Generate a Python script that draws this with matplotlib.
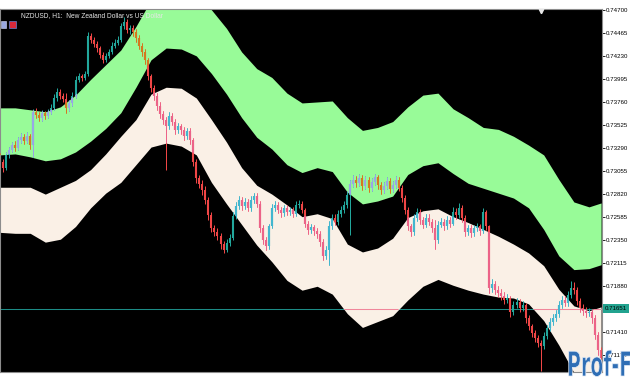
import numpy as np
import matplotlib
matplotlib.use('Agg')
import matplotlib.pyplot as plt
from matplotlib.collections import LineCollection
from matplotlib.transforms import TransformedPath, Affine2D, blended_transform_factory
from matplotlib.textpath import TextPath
from matplotlib.font_manager import FontProperties
from matplotlib.patches import PathPatch, Rectangle

# NZDUSD H1 bars (open = previous close)
first_open = 0.7321
closes = [
    0.7315, 0.7309, 0.7322, 0.7327, 0.7332, 0.7329, 0.7337, 0.7340, 0.7336, 0.7341,
    0.7332, 0.7366, 0.7363, 0.7360, 0.7365, 0.7362, 0.7366, 0.7370, 0.7380, 0.7386,
    0.7382, 0.7379, 0.7370, 0.7375, 0.7382, 0.7398, 0.7402, 0.7400, 0.7405, 0.7443,
    0.7439, 0.7435, 0.7431, 0.7424, 0.7419, 0.7423, 0.7427, 0.7433, 0.7436, 0.7439,
    0.7453, 0.7458, 0.7449, 0.7451, 0.7447, 0.7441, 0.7433, 0.7427, 0.7419, 0.7402,
    0.7390, 0.7382, 0.7372, 0.7364, 0.7358, 0.7351, 0.7362, 0.7356, 0.7347, 0.7351,
    0.7347, 0.7341, 0.7346, 0.7337, 0.7315, 0.7298, 0.7292, 0.7286, 0.7276, 0.7261,
    0.7247, 0.7243, 0.7239, 0.7231, 0.7225, 0.7232, 0.7237, 0.7260, 0.7270, 0.7276,
    0.7270, 0.7274, 0.7268, 0.7276, 0.7280, 0.7272, 0.7247, 0.7235, 0.7229, 0.7249,
    0.7268, 0.7271, 0.7266, 0.7263, 0.7268, 0.7264, 0.7266, 0.7262, 0.7271, 0.7272,
    0.7266, 0.7252, 0.7245, 0.7248, 0.7244, 0.7241, 0.7233, 0.7219, 0.7225, 0.7249,
    0.7258, 0.7254, 0.7262, 0.7266, 0.7271, 0.7281, 0.7292, 0.7296, 0.7293, 0.7298,
    0.7290, 0.7296, 0.7288, 0.7294, 0.7299, 0.7291, 0.7286, 0.7290, 0.7295, 0.7287,
    0.7291, 0.7296, 0.7288, 0.7278, 0.7266, 0.7249, 0.7243, 0.7258, 0.7264, 0.7256,
    0.7251, 0.7258, 0.7254, 0.7247, 0.7235, 0.7251, 0.7254, 0.7249, 0.7256, 0.7252,
    0.7264, 0.7261, 0.7268, 0.7258, 0.7243, 0.7247, 0.7242, 0.7247, 0.7249, 0.7244,
    0.7264, 0.7249, 0.7186, 0.7190, 0.7184, 0.7181, 0.7178, 0.7174, 0.7176, 0.7162,
    0.7169, 0.7172, 0.7166, 0.7169, 0.7156, 0.7147, 0.7140, 0.7135, 0.7130, 0.7127,
    0.7137, 0.7145, 0.7152, 0.7156, 0.7160, 0.7169, 0.7174, 0.7171, 0.7179, 0.7186,
    0.7184, 0.7173, 0.7166, 0.7163, 0.7161, 0.7162, 0.7156, 0.7138, 0.7123, 0.7115,
]
highs = [
    0.7324, 0.7318, 0.7325, 0.7330, 0.7335, 0.7336, 0.7340, 0.7344, 0.7343, 0.7345,
    0.7343, 0.7369, 0.7370, 0.7366, 0.7368, 0.7367, 0.7369, 0.7374, 0.7384, 0.7390,
    0.7389, 0.7385, 0.7385, 0.7378, 0.7386, 0.7402, 0.7406, 0.7405, 0.7408, 0.7447,
    0.7446, 0.7442, 0.7438, 0.7433, 0.7427, 0.7426, 0.7430, 0.7437, 0.7440, 0.7443,
    0.7457, 0.7463, 0.7461, 0.7455, 0.7454, 0.7450, 0.7444, 0.7436, 0.7430, 0.7421,
    0.7405, 0.7393, 0.7385, 0.7376, 0.7367, 0.7361, 0.7366, 0.7365, 0.7359, 0.7355,
    0.7354, 0.7350, 0.7349, 0.7349, 0.7339, 0.7318, 0.7302, 0.7296, 0.7290, 0.7279,
    0.7264, 0.7251, 0.7247, 0.7242, 0.7234, 0.7236, 0.7241, 0.7264, 0.7274, 0.7280,
    0.7279, 0.7278, 0.7277, 0.7280, 0.7283, 0.7283, 0.7275, 0.7250, 0.7238, 0.7252,
    0.7272, 0.7275, 0.7274, 0.7269, 0.7271, 0.7271, 0.7269, 0.7269, 0.7275, 0.7276,
    0.7275, 0.7268, 0.7255, 0.7252, 0.7251, 0.7247, 0.7244, 0.7236, 0.7229, 0.7255,
    0.7262, 0.7262, 0.7266, 0.7270, 0.7275, 0.7285, 0.7296, 0.7301, 0.7300, 0.7303,
    0.7301, 0.7300, 0.7299, 0.7298, 0.7303, 0.7302, 0.7294, 0.7294, 0.7299, 0.7298,
    0.7295, 0.7300, 0.7299, 0.7291, 0.7281, 0.7269, 0.7252, 0.7262, 0.7268, 0.7267,
    0.7259, 0.7262, 0.7262, 0.7257, 0.7256, 0.7255, 0.7258, 0.7257, 0.7260, 0.7259,
    0.7269, 0.7268, 0.7273, 0.7271, 0.7261, 0.7251, 0.7250, 0.7251, 0.7253, 0.7252,
    0.7268, 0.7266, 0.7251, 0.7195, 0.7193, 0.7188, 0.7185, 0.7182, 0.7180, 0.7178,
    0.7173, 0.7176, 0.7175, 0.7173, 0.7171, 0.7159, 0.7150, 0.7143, 0.7138, 0.7133,
    0.7141, 0.7149, 0.7156, 0.7160, 0.7164, 0.7173, 0.7178, 0.7178, 0.7183, 0.7193,
    0.7192, 0.7187, 0.7176, 0.7170, 0.7167, 0.7166, 0.7165, 0.7159, 0.7141, 0.7126,
]
lows = [
    0.7310, 0.7305, 0.7307, 0.7319, 0.7325, 0.7326, 0.7327, 0.7334, 0.7333, 0.7334,
    0.7328, 0.7320, 0.7360, 0.7357, 0.7357, 0.7359, 0.7360, 0.7364, 0.7368, 0.7377,
    0.7379, 0.7376, 0.7365, 0.7367, 0.7372, 0.7380, 0.7396, 0.7397, 0.7398, 0.7402,
    0.7436, 0.7432, 0.7427, 0.7421, 0.7416, 0.7417, 0.7421, 0.7425, 0.7431, 0.7434,
    0.7437, 0.7450, 0.7446, 0.7445, 0.7443, 0.7437, 0.7430, 0.7423, 0.7415, 0.7398,
    0.7386, 0.7378, 0.7368, 0.7360, 0.7354, 0.7307, 0.7348, 0.7352, 0.7343, 0.7344,
    0.7343, 0.7337, 0.7338, 0.7333, 0.7311, 0.7293, 0.7288, 0.7281, 0.7272, 0.7256,
    0.7243, 0.7239, 0.7235, 0.7226, 0.7222, 0.7223, 0.7229, 0.7235, 0.7257, 0.7267,
    0.7266, 0.7267, 0.7265, 0.7265, 0.7273, 0.7269, 0.7243, 0.7231, 0.7225, 0.7226,
    0.7247, 0.7265, 0.7263, 0.7259, 0.7260, 0.7261, 0.7261, 0.7259, 0.7260, 0.7268,
    0.7263, 0.7248, 0.7241, 0.7242, 0.7240, 0.7237, 0.7229, 0.7215, 0.7216, 0.7210,
    0.7246, 0.7250, 0.7251, 0.7259, 0.7263, 0.7268, 0.7240, 0.7289, 0.7289, 0.7290,
    0.7286, 0.7287, 0.7284, 0.7285, 0.7291, 0.7287, 0.7282, 0.7283, 0.7287, 0.7283,
    0.7284, 0.7288, 0.7285, 0.7274, 0.7262, 0.7245, 0.7239, 0.7240, 0.7255, 0.7252,
    0.7247, 0.7248, 0.7250, 0.7243, 0.7226, 0.7232, 0.7248, 0.7245, 0.7246, 0.7248,
    0.7250, 0.7257, 0.7258, 0.7254, 0.7239, 0.7240, 0.7238, 0.7239, 0.7244, 0.7240,
    0.7242, 0.7245, 0.7181, 0.7182, 0.7180, 0.7177, 0.7174, 0.7170, 0.7171, 0.7157,
    0.7159, 0.7166, 0.7162, 0.7163, 0.7151, 0.7143, 0.7136, 0.7131, 0.7126, 0.7102,
    0.7124, 0.7134, 0.7142, 0.7149, 0.7153, 0.7157, 0.7166, 0.7168, 0.7168, 0.7176,
    0.7180, 0.7169, 0.7162, 0.7159, 0.7157, 0.7158, 0.7151, 0.7134, 0.7118, 0.7111,
]
opens = [first_open] + closes[:-1]

# the two channels, sampled every 5 bars
band_idx = list(range(0, 200, 5)) + [199]
green_top = [
    0.7370, 0.7370, 0.7368, 0.7366, 0.7371, 0.7383, 0.7399, 0.7414, 0.7429, 0.7453,
    0.7480, 0.7480, 0.7480, 0.7480, 0.7470, 0.7451, 0.7427, 0.7410, 0.7401, 0.7385,
    0.7375, 0.7376, 0.7377, 0.7360, 0.7347, 0.7350, 0.7356, 0.7371, 0.7383, 0.7385,
    0.7369, 0.7360, 0.7350, 0.7348, 0.7341, 0.7332, 0.7322, 0.7297, 0.7274, 0.7269,
    0.7273]
green_bot = [
    0.7322, 0.7323, 0.7320, 0.7316, 0.7318, 0.7325, 0.7336, 0.7349, 0.7365, 0.7391,
    0.7419, 0.7431, 0.7430, 0.7423, 0.7405, 0.7384, 0.7360, 0.7340, 0.7328, 0.7312,
    0.7304, 0.7309, 0.7305, 0.7284, 0.7272, 0.7275, 0.7280, 0.7302, 0.7311, 0.7314,
    0.7303, 0.7293, 0.7288, 0.7283, 0.7278, 0.7268, 0.7246, 0.7219, 0.7205, 0.7206,
    0.7210]
beige_top = [
    0.7289, 0.7289, 0.7289, 0.7282, 0.7289, 0.7296, 0.7307, 0.7323, 0.7341, 0.7358,
    0.7384, 0.7391, 0.7390, 0.7380, 0.7358, 0.7335, 0.7309, 0.7291, 0.7282, 0.7271,
    0.7259, 0.7262, 0.7257, 0.7231, 0.7223, 0.7227, 0.7237, 0.7258, 0.7265, 0.7267,
    0.7259, 0.7253, 0.7246, 0.7239, 0.7231, 0.7222, 0.7209, 0.7185, 0.7168, 0.7163,
    0.7167]
beige_bot = [
    0.7243, 0.7242, 0.7242, 0.7233, 0.7236, 0.7249, 0.7268, 0.7283, 0.7294, 0.7312,
    0.7330, 0.7334, 0.7331, 0.7322, 0.7294, 0.7272, 0.7251, 0.7230, 0.7213, 0.7194,
    0.7184, 0.7188, 0.7180, 0.7160, 0.7146, 0.7152, 0.7158, 0.7174, 0.7188, 0.7195,
    0.7189, 0.7184, 0.7180, 0.7177, 0.7176, 0.7170, 0.7153, 0.7128, 0.7100, 0.7082,
    0.7072]

price_ticks = [0.74700, 0.74465, 0.74230, 0.73995, 0.73760, 0.73525, 0.73290, 0.73055,
               0.72820, 0.72585, 0.72350, 0.72115, 0.71880, 0.71410, 0.71175]
line_price = 0.71651
title = 'NZDUSD, H1:  New Zealand Dollar vs US Dollar'

FONT = 'Liberation Sans'


def draw_candles(ax, bull, bear, zorder, clip=None):
    idx = np.arange(len(closes))
    o = np.array(opens)
    c = np.array(closes)
    cols = np.where(c >= o, bull, bear)
    lo = np.minimum(o, c)
    hi = np.maximum(np.maximum(o, c), lo + 0.00004)
    wicks = [[(i, l), (i, h)] for i, l, h in zip(idx, lows, highs)]
    bodies = [[(i, a), (i, b)] for i, a, b in zip(idx, lo, hi)]
    wc = LineCollection(wicks, colors=cols, linewidths=0.72, zorder=zorder)
    bc = LineCollection(bodies, colors=cols, linewidths=1.5, zorder=zorder, capstyle='butt')
    for coll in (wc, bc):
        ax.add_collection(coll)
        if clip is not None:
            coll.set_clip_path(clip)


fig = plt.figure(figsize=(6.3, 3.8), dpi=100, facecolor='white')
ax = fig.add_axes([0, 8 / 380, 602 / 630, 363 / 380])
ax.set_facecolor('black')
ax.set_xlim(0, 199.3)
ax.set_ylim(0.710056, 0.747082)

green = ax.fill_between(band_idx, green_bot, green_top, color='#98fb98', lw=0, zorder=1)
beige = ax.fill_between(band_idx, beige_bot, beige_top, color='#faf0e6', lw=0, zorder=1)
green_clip = TransformedPath(green.get_paths()[0], ax.transData)
beige_clip = TransformedPath(beige.get_paths()[0], ax.transData)

# horizontal price line: teal on black, pinkish where it crosses the beige band
ax.axhline(line_price, color='#1d8c86', lw=0.75, zorder=0.5)
pl = ax.axhline(line_price, color='#f0869a', lw=0.75, zorder=1.5)
pl.set_clip_path(beige_clip)

# candles: normal colours on black, recoloured inside each band
draw_candles(ax, '#22a79c', '#ef4646', 2)
draw_candles(ax, '#98a6e6', '#d4781e', 3, clip=green_clip)
draw_candles(ax, '#42b6cf', '#ec6388', 3, clip=beige_clip)

ax.text(21 / 602, 1 - 7 / 363, title, transform=ax.transAxes, color='#e6e6e6',
        fontsize=4.8, family=FONT, va='center', ha='left', zorder=10)
ax.add_patch(Rectangle((0.5 / 602, 1 - 19 / 363), 5 / 602, 7 / 363, transform=ax.transAxes,
                       fc='#9aa8e0', ec='#d8ddf5', lw=0.4, zorder=10))
ax.add_patch(Rectangle((9 / 602, 1 - 19 / 363), 7 / 602, 7 / 363, transform=ax.transAxes,
                       fc='#d8283a', ec='#6080d0', lw=0.5, zorder=10))
ax.plot([541 / 602], [1 - 2 / 363], marker='v', color='#e8e8e8', ms=3.2,
        transform=ax.transAxes, clip_on=False, zorder=10)

ax.yaxis.tick_right()
ax.set_yticks(price_ticks)
ax.set_yticklabels([f'{p:.5f}' for p in price_ticks])
ax.tick_params(axis='y', length=2.2, width=0.6, color='black', labelsize=4.4, pad=0.4,
               labelcolor='black')
for lbl in ax.get_yticklabels():
    lbl.set_family(FONT)
ax.set_xticks([])
for sp in ax.spines.values():
    sp.set_color('#8c8c8c')
    sp.set_linewidth(0.8)

ax.text(1 + 3 / 602, line_price, f'{line_price:.5f}',
        transform=blended_transform_factory(ax.transAxes, ax.transData),
        ha='left', va='center', fontsize=4.4, family=FONT, color='black',
        bbox=dict(boxstyle='square,pad=0.3', fc='#22a38f', ec='none'),
        clip_on=False, zorder=10)

# watermark in the bottom right corner
tp = TextPath((0, 0), 'Prof-F', size=1, prop=FontProperties(family='DejaVu Sans', weight='bold'))
wm = PathPatch(tp, transform=Affine2D().scale(19, 34).translate(567, 4),
               fc='#2f6eb5', ec='#e4ecf7', lw=0.5, zorder=20)
fig.add_artist(wm)

fig.savefig('out.png', dpi=100, facecolor='white')
